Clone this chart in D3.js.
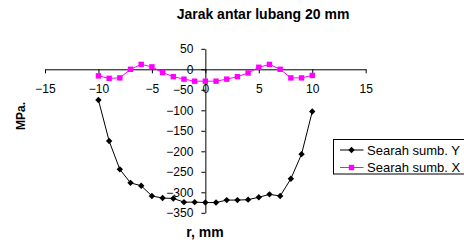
<!DOCTYPE html>
<html>
<head>
<meta charset="utf-8">
<script src="https://cdn.jsdelivr.net/npm/d3@7"></script>
<style>
  body { margin: 0; background: #fff; }
  svg { font-family: "Liberation Sans", Arial, sans-serif; }
  .axis path, .axis line { stroke: #000; }
  .axis text { font-size: 12px; fill: #000; }
</style>
</head>
<body>
<script>
const width = 464;
const height = 244;

// data
const r = [-10, -9, -8, -7, -6, -5, -4, -3, -2, -1, 0, 1, 2, 3, 4, 5, 6, 7, 8, 9, 10];
const sumbY = [-75, -175, -244, -277, -284, -309, -314, -315, -324, -324, -325, -325, -319, -319, -318, -312, -305, -309, -267, -207, -103];
const sumbX = [-16, -22, -21, 0, 12, 6, -8, -18, -24, -29, -29, -29, -24, -18, -9, 5, 12, 0, -21, -21, -15];
const xTicks = [-15, -10, -5, 0, 5, 10, 15];
const yTicks = [50, 0, -50, -100, -150, -200, -250, -300, -350];
const seriesNames = ['Searah sumb. Y', 'Searah sumb. X'];

var svg = d3.select('body').append('svg')
    .attr('width', width)
    .attr('height', height);

const xScale = d3.scaleLinear().domain([-15, 15]).range([45, 365.7]);
const yScale = d3.scaleLinear().domain([-350, 50]).range([212.8, 48.8]);

svg.append('text')
    .text('Jarak antar lubang 20 mm')
    .attr('x', 263)
    .attr('y', 19)
    .attr('text-anchor', 'middle')
    .style('font-size', '14px')
    .style('font-weight', 'bold');

svg.append('g')
    .attr('class', 'axis')
    .attr('transform', `translate(0, ${yScale(0)})`)
    .call(d3.axisBottom(xScale).tickValues(xTicks).tickSize(4).tickSizeOuter(0).tickPadding(11.5));

svg.append('g')
    .attr('class', 'axis')
    .attr('transform', `translate(${xScale(0)}, 0)`)
    .call(d3.axisLeft(yScale).tickValues(yTicks).tickSize(4).tickSizeOuter(0).tickPadding(8));

svg.append('text')
    .text('MPa.')
    .attr('transform', 'translate(25, 116) rotate(-90)')
    .attr('text-anchor', 'middle')
    .style('font-size', '12px')
    .style('font-weight', 'bold');

svg.append('text')
    .text('r, mm')
    .attr('x', 205)
    .attr('y', 237)
    .attr('text-anchor', 'middle')
    .style('font-size', '14px')
    .style('font-weight', 'bold');

const line = d3.line().x(d => xScale(d[0])).y(d => yScale(d[1]));
const ptsY = r.map((v, i) => [v, sumbY[i]]);
const ptsX = r.map((v, i) => [v, sumbX[i]]);

svg.append('path').datum(ptsY)
    .attr('d', line).attr('fill', 'none').attr('stroke', '#000').attr('stroke-width', 1);
svg.append('path').datum(ptsX)
    .attr('d', line).attr('fill', 'none').attr('stroke', '#ff00ff').attr('stroke-width', 1);

const diamond = d3.symbol().type(d3.symbolDiamond2).size(26);

svg.selectAll('.ptY').data(ptsY).enter()
    .append('path')
    .attr('d', diamond)
    .attr('transform', d => `translate(${xScale(d[0])}, ${yScale(d[1])})`)
    .attr('fill', '#000');

svg.selectAll('.ptX').data(ptsX).enter()
    .append('rect')
    .attr('x', d => xScale(d[0]) - 2.7)
    .attr('y', d => yScale(d[1]) - 2.7)
    .attr('width', 5.4)
    .attr('height', 5.4)
    .attr('fill', '#ff00ff');

// legend
const legend = svg.append('g').attr('transform', 'translate(333.5, 139.5)');
legend.append('rect')
    .attr('width', 140).attr('height', 34.5)
    .attr('fill', '#fff').attr('stroke', '#000').attr('stroke-width', 1);

const colors = ['#000', '#ff00ff'];
seriesNames.forEach((name, i) => {
    const yy = 10.5 + i * 17.5;
    legend.append('line')
        .attr('x1', 6.5).attr('x2', 30).attr('y1', yy).attr('y2', yy)
        .attr('stroke', colors[i]);
    if (i == 0) {
        legend.append('path')
            .attr('d', diamond)
            .attr('transform', `translate(18, ${yy})`)
            .attr('fill', '#000');
    } else {
        legend.append('rect')
            .attr('x', 15.3).attr('y', yy - 2.7)
            .attr('width', 5.4).attr('height', 5.4)
            .attr('fill', '#ff00ff');
    }
    legend.append('text')
        .text(name)
        .attr('x', 33.5)
        .attr('y', yy + 4.6)
        .style('font-size', '13px');
});
</script>
</body>
</html>
